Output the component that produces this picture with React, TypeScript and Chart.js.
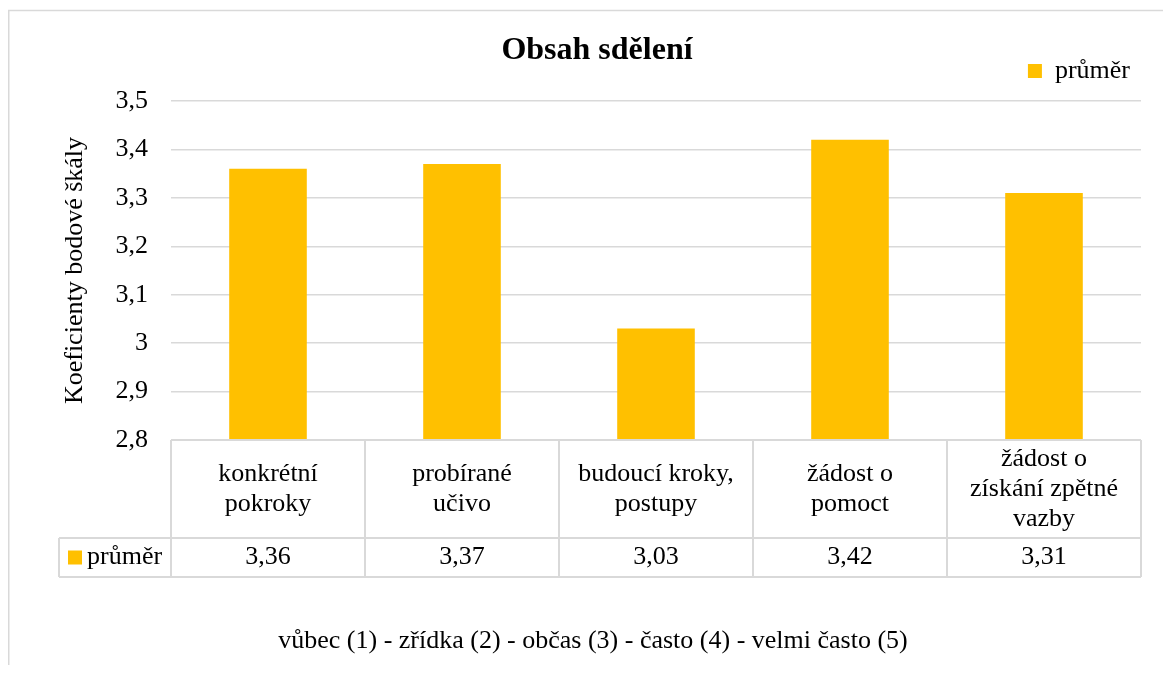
import React, { useEffect, useRef } from 'react';
import { Chart, registerables } from 'chart.js';

Chart.register(...registerables);

// ---- data ----
const categories: string[][] = [
  ['konkrétní', 'pokroky'],
  ['probírané', 'učivo'],
  ['budoucí kroky,', 'postupy'],
  ['žádost o', 'pomoct'],
  ['žádost o', 'získání zpětné', 'vazby'],
];
const seriesName = 'průměr';
const values: number[] = [3.36, 3.37, 3.03, 3.42, 3.31];
const yTicks: number[] = [2.8, 2.9, 3.0, 3.1, 3.2, 3.3, 3.4, 3.5];
const chartTitle = 'Obsah sdělení';
const yAxisTitle = 'Koeficienty bodové škály';
const footnote = 'vůbec (1) - zřídka (2) - občas (3) - často (4) - velmi často (5)';

// ---- style ----
const FONT = '"Times New Roman", "Liberation Serif", serif';
const BAR = '#FFC000';
const LINE = '#d9d9d9';
const W = 1155;
const H = 657;

const fmtTick = (v: number) => String(Math.round(v * 10) / 10).replace('.', ',');
const fmtVal = (v: number) => v.toFixed(2).replace('.', ',');

const tablePlugin = {
  id: 'dataTable',
  beforeLayout(chart: any) {
    const lg = chart.legend;
    if (lg && !lg.__patched) {
      const orig = lg.fit;
      lg.fit = function () {
        orig.call(this);
        this.height = 54;
      };
      lg.__patched = true;
    }
  },
  afterDraw(chart: any) {
    const ctx: CanvasRenderingContext2D = chart.ctx;
    const xs = chart.scales.x;
    const ca = chart.chartArea;
    const n = categories.length;
    const colW = (ca.right - ca.left) / n;
    const top = ca.bottom;
    const mid = top + 98;
    const bot = mid + 39;
    const legL = 51;
    const line = (x1: number, y1: number, x2: number, y2: number) => {
      ctx.beginPath();
      ctx.moveTo(x1, y1);
      ctx.lineTo(x2, y2);
      ctx.stroke();
    };
    ctx.save();
    ctx.strokeStyle = LINE;
    ctx.lineWidth = 2;
    line(ca.left, top, ca.right, top);
    line(legL, mid, ca.right, mid);
    line(legL, bot, ca.right, bot);
    for (let k = 0; k <= n; k++) {
      const x = ca.left + k * colW;
      line(x, top, x, bot);
    }
    line(legL, mid, legL, bot);

    ctx.fillStyle = '#000';
    ctx.font = `26px ${FONT}`;
    ctx.textAlign = 'center';
    ctx.textBaseline = 'middle';
    categories.forEach((lines, i) => {
      const cx = xs.getPixelForValue(i);
      const cy = (top + mid) / 2;
      lines.forEach((t, j) => {
        ctx.fillText(t, cx, cy + (j - (lines.length - 1) / 2) * 30);
      });
      ctx.fillText(fmtVal(values[i]), cx, (mid + bot) / 2);
    });
    ctx.fillStyle = BAR;
    ctx.fillRect(60, (mid + bot) / 2 - 7, 14, 14);
    ctx.fillStyle = '#000';
    ctx.textAlign = 'left';
    ctx.fillText(seriesName, 79, (mid + bot) / 2);

    ctx.textAlign = 'center';
    ctx.fillText(footnote, 585, 633);

    ctx.lineWidth = 1.5;
    line(0, 2.5, W, 2.5);
    line(0.75, 2.5, 0.75, H);
    ctx.restore();
  },
};

export default function App() {
  const ref = useRef<HTMLCanvasElement | null>(null);
  useEffect(() => {
    if (!ref.current) return;
    const chart = new Chart(ref.current, {
      type: 'bar',
      data: {
        labels: categories.map((c) => c.join(' ')),
        datasets: [
          {
            label: seriesName,
            data: values,
            backgroundColor: BAR,
            borderWidth: 0,
            categoryPercentage: 1,
            barPercentage: 0.4,
          },
        ],
      },
      options: {
        responsive: false,
        animation: false,
        layout: { padding: { left: 45, right: 22, top: 0, bottom: 225 } },
        plugins: {
          title: {
            display: true,
            text: chartTitle,
            color: '#000',
            font: { family: FONT, size: 32, weight: 'bold', lineHeight: 0.25 },
            padding: { top: 39, bottom: -8 },
          },
          legend: {
            display: true,
            position: 'top',
            align: 'end',
            labels: {
              boxWidth: 14,
              boxHeight: 14,
              padding: 11,
              color: '#000',
              font: { family: FONT, size: 26 },
            },
          },
          tooltip: { enabled: false },
        },
        scales: {
          x: {
            display: false,
            grid: { display: false },
          },
          y: {
            min: yTicks[0],
            max: yTicks[yTicks.length - 1],
            afterBuildTicks: (s: any) => {
              s.ticks = yTicks.map((v) => ({ value: v }));
            },
            afterFit: (s: any) => {
              s.width = 118;
            },
            grid: { color: LINE, lineWidth: 1.5, drawTicks: false },
            border: { display: false },
            ticks: {
              padding: 23,
              color: '#000',
              font: { family: FONT, size: 26 },
              callback: (v: any) => fmtTick(Number(v)),
            },
            title: {
              display: true,
              text: yAxisTitle,
              color: '#000',
              font: { family: FONT, size: 26 },
              padding: { top: 7, bottom: 0 },
            },
          },
        },
      },
      plugins: [tablePlugin],
    } as any);
    return () => chart.destroy();
  }, []);
  return (
    <div style={{ width: W, height: H }}>
      <canvas ref={ref} width={W} height={H} style={{ display: 'block' }} />
    </div>
  );
}
